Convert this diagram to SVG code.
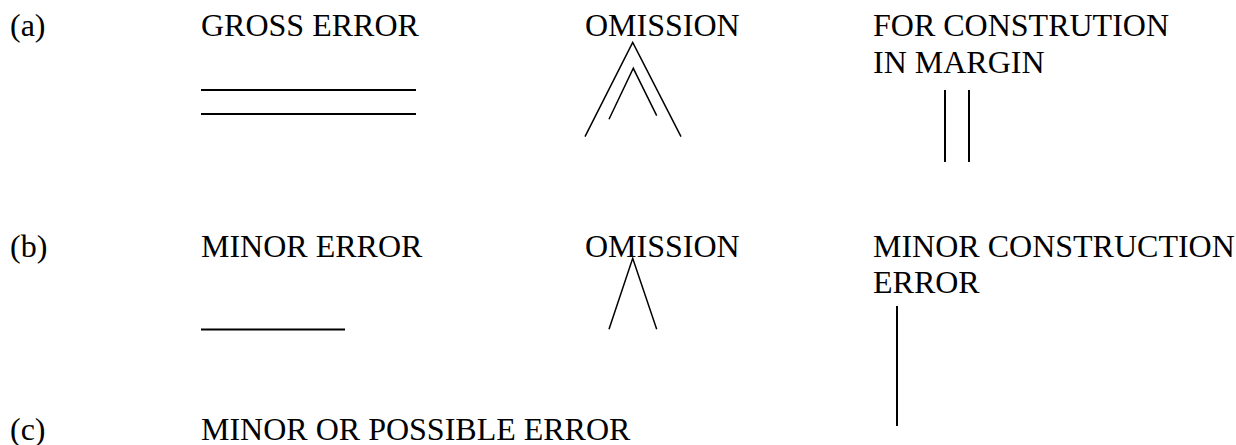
<svg xmlns="http://www.w3.org/2000/svg" width="1236" height="445" viewBox="0 0 1236 445">
<style>
text{font-family:"Liberation Serif","Times New Roman",serif;font-size:32px;fill:#000}
.thick{stroke:#000;stroke-width:2;fill:none}
.thin{stroke:#000;stroke-width:1.5;fill:none}
</style>
<rect width="1236" height="445" fill="#fff"/>
<g id="row-a">
<text x="10" y="36">(a)</text>
<g id="gross-error"><text x="201" y="36">GROSS ERROR</text>
<line class="thick" x1="201" y1="90" x2="416" y2="90"/>
<line class="thick" x1="201" y1="114" x2="416" y2="114"/></g>
<g id="omission-a"><text x="585" y="36">OMISSION</text>
<polyline class="thin" points="585,136.7 632.7,42.3 681,136.7"/>
<polyline class="thin" points="609,119.3 633.3,68.3 656.7,115.7"/></g>
<g id="construction-margin"><text x="873" y="36">FOR CONSTRUTION</text>
<text x="873" y="73">IN MARGIN</text>
<line class="thick" x1="945" y1="90" x2="945" y2="162"/>
<line class="thick" x1="969" y1="90" x2="969" y2="162"/></g>
</g>
<g id="row-b">
<text x="10" y="257">(b)</text>
<g id="minor-error"><text x="201" y="257">MINOR ERROR</text>
<line class="thick" x1="201" y1="329.5" x2="345" y2="329.5"/></g>
<g id="omission-b"><text x="585" y="257">OMISSION</text>
<polyline class="thin" points="609,329.3 632.7,258.3 656.7,329.3"/></g>
<g id="minor-construction"><text x="873" y="257">MINOR CONSTRUCTION</text>
<text x="873" y="293">ERROR</text>
<line class="thick" x1="897" y1="306" x2="897" y2="426"/></g>
</g>
<g id="row-c">
<text x="10" y="440">(c)</text>
<text x="201" y="440">MINOR OR POSSIBLE ERROR</text>
</g>
<g id="connectors"/>
</svg>
